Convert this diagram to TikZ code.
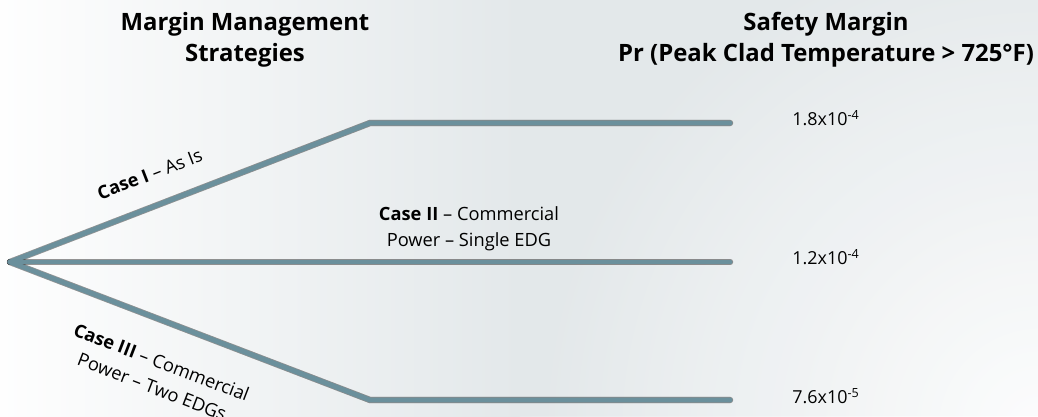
\documentclass[tikz,border=0pt]{standalone}
\usepackage{fontspec}
\setmainfont{Open Sans}
\definecolor{branch}{HTML}{6B909C}
\definecolor{bgmid}{HTML}{E3E8EA}
\tikzset{
  branchline/.style={line width=2.8pt, draw=branch, line cap=round, line join=miter},
  shadeline/.style={draw=black, line width=3.6pt, opacity=0.055, line cap=round},
  headtxt/.style={align=center, font=\fontsize{13.6}{17.6}\selectfont\bfseries},
  casetxt/.style={align=center, font=\fontsize{10.4}{15}\selectfont, inner sep=0pt},
  valtxt/.style={anchor=west, font=\fontsize{10.2}{13}\selectfont, inner sep=0pt}
}
\begin{document}
\begin{tikzpicture}[x=0.02cm, y=-0.02cm]
  \useasboundingbox (0,0) rectangle (1038,416);
  \fill[bgmid] (0,0) rectangle (1038,416);
  \shade[left color=white!96!bgmid, right color=bgmid] (0,0) rectangle (520,416);
  \begin{scope}
    \clip (0,0) rectangle (1038,416);
    \shade[inner color=white, outer color=bgmid, opacity=0.9] (1040,430) circle (520);
  \end{scope}
  \coordinate (root) at (10,262);
  \coordinate (k1) at (370,123);
  \coordinate (e1) at (730,123);
  \coordinate (e2) at (730,262);
  \coordinate (k3) at (370,400);
  \coordinate (e3) at (730,400);
  \foreach \dy in {5,6.5,...,17}{
    \begin{scope}[yshift=-\dy*0.02cm]
      \draw[shadeline] (root) -- (k1) -- (e1);
      \draw[shadeline] (root) -- (e2);
      \draw[shadeline] (root) -- (k3) -- (e3);
    \end{scope}
  }
  \draw[branchline] (root) -- (k1) -- (e1);
  \draw[branchline] (root) -- (e2);
  \draw[branchline] (root) -- (k3) -- (e3);
  \node[headtxt] (hstrat) at (245,40) {Margin Management\\Strategies};
  \node[headtxt] (hsafe) at (826,40) {Safety Margin\\Pr (Peak Clad Temperature > 725°F)};
  \path (root) -- (k1) node[casetxt, pos=0.42, sloped, above=14] (case1)
    {\textbf{Case I} -- As Is};
  \node[casetxt] (case2) at (469,229) {\textbf{Case II} -- Commercial\\Power -- Single EDG};
  \path (root) -- (k3) node[casetxt, pos=0.46, sloped, below=18] (case3)
    {\textbf{Case III} -- Commercial\\Power -- Two EDGs};
  \node[valtxt] (v1) at (792,118) {1.8x10\textsuperscript{-4}};
  \node[valtxt] (v2) at (792,257) {1.2x10\textsuperscript{-4}};
  \node[valtxt] (v3) at (792,396) {7.6x10\textsuperscript{-5}};
\end{tikzpicture}
\end{document}
